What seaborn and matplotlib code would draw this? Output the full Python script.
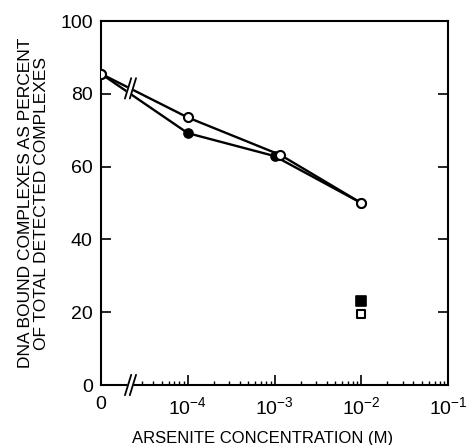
import matplotlib
matplotlib.use("Agg")
import matplotlib.pyplot as plt
import seaborn as sns
import numpy as np
import pandas as pd
from matplotlib.ticker import FixedLocator, NullFormatter

# ---- data ----
open_x = [1e-5, 1e-4, 1.17e-3, 1e-2]
open_y = [85.5, 73.5, 63.2, 50.0]
filled_x = [1e-5, 1e-4, 1e-3, 1e-2]
filled_y = [85.5, 69.2, 62.9, 50.0]
sq_filled_x = [1e-2]
sq_filled_y = [23.2]
sq_open_x = [1e-2]
sq_open_y = [19.5]
xtick_vals = [1e-5, 1e-4, 1e-3, 1e-2, 1e-1]
xtick_labels = ["0", r"$10^{-4}$", r"$10^{-3}$", r"$10^{-2}$", r"$10^{-1}$"]
ytick_vals = [0, 20, 40, 60, 80, 100]

sns.set_style("ticks")
plt.rcParams['font.family'] = ['Liberation Sans', 'DejaVu Sans']
plt.rcParams['mathtext.fontset'] = 'custom'
plt.rcParams['mathtext.rm'] = 'Liberation Sans'
plt.rcParams['mathtext.it'] = 'Liberation Sans'
plt.rcParams['text.color'] = 'black'
plt.rcParams['axes.labelcolor'] = 'black'
plt.rcParams['xtick.color'] = 'black'
plt.rcParams['ytick.color'] = 'black'

fig = plt.figure(figsize=(4.67, 4.45), dpi=100)
ax = fig.add_axes([0.2163, 0.1348, 0.7430, 0.8180])

df_f = pd.DataFrame({"x": filled_x, "y": filled_y})
df_o = pd.DataFrame({"x": open_x, "y": open_y})

sns.lineplot(data=df_f, x="x", y="y", ax=ax, color="black", lw=1.7,
             marker="o", markersize=6.5, markerfacecolor="black",
             markeredgecolor="black", markeredgewidth=1.2, zorder=3)
sns.lineplot(data=df_o, x="x", y="y", ax=ax, color="black", lw=1.7,
             marker="o", markersize=6.5, markerfacecolor="white",
             markeredgecolor="black", markeredgewidth=1.5, zorder=4)
sns.scatterplot(x=sq_filled_x, y=sq_filled_y, ax=ax, marker="s", s=42,
                color="black", edgecolor="black", linewidth=1.2, zorder=5)
sns.scatterplot(x=sq_open_x, y=sq_open_y, ax=ax, marker="s", s=36,
                facecolor="white", edgecolor="black", linewidth=1.5, zorder=5)

ax.set_xscale("log")
ax.set_xlim(1e-5, 1e-1)
ax.set_ylim(0, 100)
ax.set_xticks(xtick_vals)
ax.set_xticklabels(xtick_labels)
minors = [m * 10.0**e for e in range(-5, -1) for m in range(2, 10)]
minors = [v for v in minors if not (1.5e-5 < v < 2.5e-5)]
ax.xaxis.set_minor_locator(FixedLocator(minors))
ax.xaxis.set_minor_formatter(NullFormatter())
ax.set_yticks(ytick_vals)

ax.tick_params(axis="x", which="major", direction="in", length=7, width=1.2,
               labelsize=14, pad=8, colors="black")
ax.tick_params(axis="x", which="minor", direction="in", length=3, width=1.0)
ax.tick_params(axis="y", which="major", direction="in", length=7, width=1.2,
               labelsize=14, pad=6, right=True, colors="black")
for s in ax.spines.values():
    s.set_linewidth(1.5)
    s.set_color("black")

ax.set_xlabel("ARSENITE CONCENTRATION (M)", fontsize=12, labelpad=9,
              color="black")
ax.xaxis.set_label_coords(0.465, -0.125)
ax.set_ylabel("DNA BOUND COMPLEXES AS PERCENT\nOF TOTAL DETECTED COMPLEXES",
              fontsize=12.5, labelpad=8, linespacing=1.1, color="black")

# axis break marks
def brk(xc, yc):
    for dx in (-0.007, 0.007):
        ax.plot([xc + dx - 0.009, xc + dx + 0.009], [yc - 0.028, yc + 0.028],
                transform=ax.transAxes, color="black", lw=1.3,
                clip_on=False, zorder=6)
    ax.fill([xc - 0.007 - 0.006, xc + 0.007 - 0.006, xc + 0.007 + 0.006, xc - 0.007 + 0.006],
            [yc - 0.018, yc - 0.018, yc + 0.018, yc + 0.018],
            transform=ax.transAxes, color="white", clip_on=False, zorder=5.5)

brk(0.085, 0.815)
brk(0.085, 0.0)

fig.savefig("out.png", dpi=100)
